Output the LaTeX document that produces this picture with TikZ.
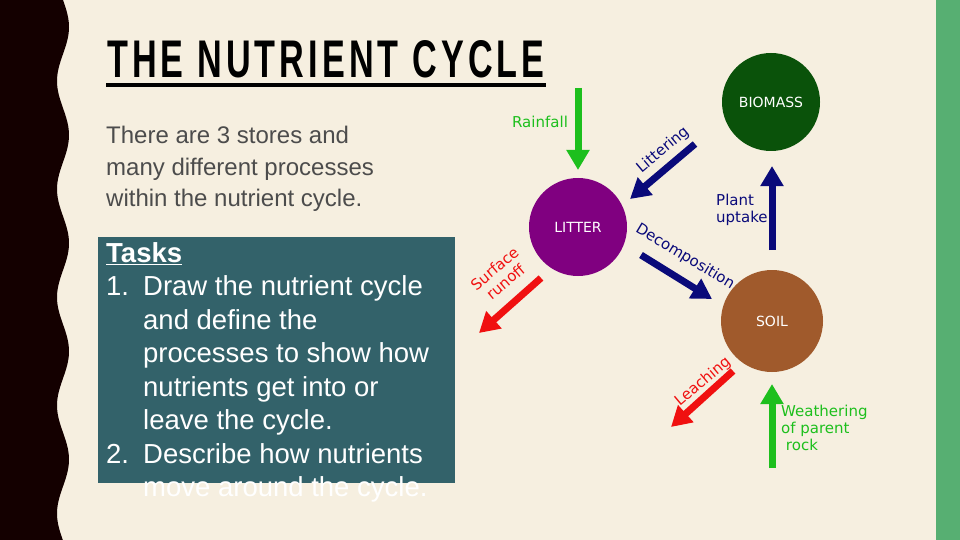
\documentclass[tikz,border=0pt]{standalone}
\usepackage{fontspec}
\setmainfont{Liberation Sans}
\newfontfamily\titlefont[LetterSpace=12]{Liberation Sans}
\newfontfamily\diafont{DejaVu Sans}
\usetikzlibrary{arrows.meta}
\definecolor{paper}{HTML}{F6EFE0}
\definecolor{taskbox}{HTML}{33626A}
\definecolor{sidebar}{HTML}{57AF72}
\definecolor{rainG}{HTML}{1DBF1D}
\definecolor{flowB}{HTML}{0A0A7A}
\definecolor{lossR}{HTML}{F01010}
\definecolor{litterC}{HTML}{800080}
\definecolor{bioC}{HTML}{0A520A}
\definecolor{soilC}{HTML}{A05A2C}
\newcommand\numitem[1]{\makebox[37pt][l]{#1}}
\tikzset{
  store/.style={circle, minimum size=98pt, inner sep=0pt, text=white, font=\diafont\fontsize{14}{14}\selectfont},
  flow/.style={line width=7pt, -{Triangle[length=20pt,width=22pt]}},
  lab/.style={font=\diafont\fontsize{15}{17}\selectfont, align=left, inner sep=0pt},
}
\begin{document}
\begin{tikzpicture}[x=1pt,y=-1pt]
\useasboundingbox (0,0) rectangle (960,540);
\fill[paper] (0,0) rectangle (960,540);
\fill[sidebar] (936,0) rectangle (960,540);
\fill[black!92!red] (0,0) -- plot[domain=0:540, samples=120, smooth] ({63+6*sin(\x*3.33)},\x) -- (0,540) -- cycle;
% title and text
\node[anchor=south west, inner sep=0pt, font=\titlefont\bfseries\fontsize{53}{53}\selectfont, xscale=0.645] (title) at (107,78) {THE NUTRIENT CYCLE};
\fill (106,83) rectangle (546,87);
\node[anchor=north west, inner sep=0pt, align=left, text=black!70, font=\fontsize{24}{31.5}\selectfont] (intro) at (106,126) {There are 3 stores and\\many different processes\\within the nutrient cycle.};
\fill[taskbox] (98,237) rectangle (455,483);
\node[anchor=north west, inner sep=0pt, align=left, text=white, font=\fontsize{27.5}{33.5}\selectfont] (tasks) at (106,242)
  {\underline{\textbf{Tasks}}\\\numitem{1.}Draw the nutrient cycle\\\hspace*{37pt}and define the\\\hspace*{37pt}processes to show how\\\hspace*{37pt}nutrients get into or\\\hspace*{37pt}leave the cycle.\\\numitem{2.}Describe how nutrients\\\hspace*{37pt}move around the cycle.};
% stores
\node[store, fill=litterC] (litter) at (578,227) {LITTER};
\node[store, fill=bioC] (biomass) at (771,102) {BIOMASS};
\node[store, fill=soilC, minimum size=102pt] (soil) at (772,321) {SOIL};
% flows
\coordinate (rainTop) at (578,88);
\coordinate (rainEnd) at (578,170);
\coordinate (litStart) at (695,144);
\coordinate (litEnd) at (630,199);
\coordinate (decStart) at (641,255);
\coordinate (decEnd) at (712,299);
\coordinate (upStart) at (772,250);
\coordinate (upEnd) at (772,166);
\coordinate (runStart) at (541,278);
\coordinate (runEnd) at (479,333);
\coordinate (leachStart) at (733,371);
\coordinate (leachEnd) at (671,427);
\coordinate (weathStart) at (772,468);
\coordinate (weathEnd) at (772,384);
\draw[flow, rainG] (rainTop) -- (rainEnd);
\draw[flow, flowB] (litStart) -- (litEnd);
\draw[flow, flowB] (decStart) -- (decEnd);
\draw[flow, flowB] (upStart) -- (upEnd);
\draw[flow, lossR] (runStart) -- (runEnd);
\draw[flow, lossR] (leachStart) -- (leachEnd);
\draw[flow, rainG] (weathStart) -- (weathEnd);
% labels
\node[lab, text=rainG] (rainLab) at (540,122) {Rainfall};
\node[lab, text=flowB, rotate=40] (litLab) at (663,150) {Littering};
\node[lab, text=flowB, rotate=-31] (decLab) at (685,257) {Decomposition};
\node[lab, text=flowB, anchor=west] (upLab) at (716,210) {Plant\\uptake};
\node[lab, text=lossR, rotate=40, align=center] (runLab) at (500,275) {Surface\\runoff};
\node[lab, text=lossR, rotate=40] (leachLab) at (703,382) {Leaching};
\node[lab, text=rainG, anchor=north west] (weathLab) at (781,405) {Weathering\\of parent\\\ rock};
\end{tikzpicture}
\end{document}
